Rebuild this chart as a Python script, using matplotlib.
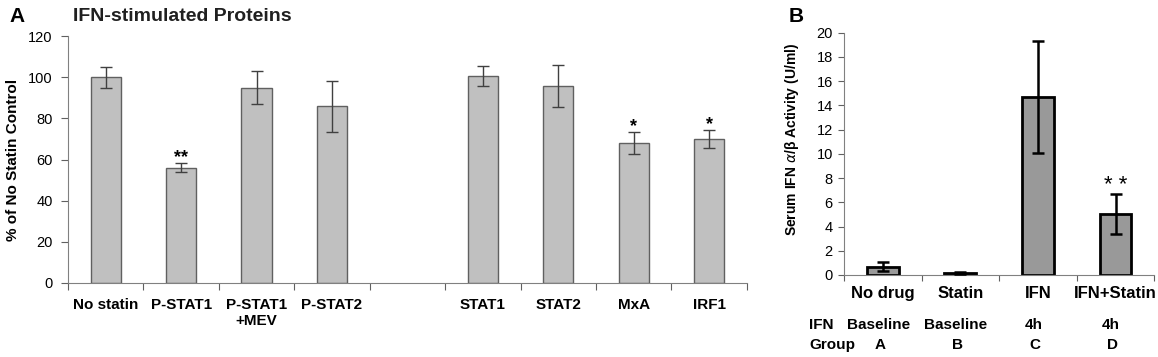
import matplotlib
matplotlib.use("Agg")
import numpy as np
import matplotlib.pyplot as plt

plt.rcParams["font.family"] = ["Liberation Sans", "DejaVu Sans"]

# ── panel A data ──
A_LABELS = ["No statin", "P-STAT1", "P-STAT1\n+MEV", "P-STAT2", "",
            "STAT1", "STAT2", "MxA", "IRF1"]
A_VALUES = [100, 56, 95, 86, np.nan, 100.5, 95.7, 68, 70]
A_ERRORS = [5, 2.3, 8.2, 12.4, np.nan, 5, 10.2, 5.2, 4.5]
A_STARS = ["", "**", "", "", "", "", "", "*", "*"]

# ── panel B data ──
B_LABELS = ["No drug", "Statin", "IFN", "IFN+Statin"]
B_VALUES = [0.7, 0.15, 14.7, 5.0]
B_ERRORS = [0.37, 0.1, 4.65, 1.65]
B_STARS = ["", "", "", "* *"]
B_IFN = ["Baseline", "Baseline", "4h", "4h"]
B_GROUP = ["A", "B", "C", "D"]

fig = plt.figure(figsize=(11.58, 3.57), dpi=100)

# --- panel A ---
axA = fig.add_axes([0.0587, 0.2073, 0.5863, 0.6917])
xa = np.arange(len(A_LABELS))
axA.bar(xa, A_VALUES, width=0.4, color="#c0c0c0", edgecolor="#606060",
        linewidth=1.0, zorder=2)
axA.errorbar(xa, A_VALUES, yerr=A_ERRORS, fmt="none", ecolor="#404040",
             elinewidth=1.0, capsize=4, capthick=1.0, zorder=3)
for i, s in enumerate(A_STARS):
    if s:
        axA.text(xa[i], A_VALUES[i] + A_ERRORS[i] - 1.5, s, ha="center",
                 va="bottom", fontsize=13, fontweight="bold")
axA.set_xlim(-0.5, len(A_LABELS) - 0.5)
axA.set_ylim(0, 120)
axA.set_yticks(np.arange(0, 121, 20))
axA.set_xticks(np.arange(-0.5, len(A_LABELS), 1.0))
axA.set_xticklabels([])
axA.set_xticks(xa, minor=True)
axA.set_xticklabels(A_LABELS, minor=True, fontweight="bold", fontsize=11,
                    va="top")
axA.tick_params(axis="x", which="minor", length=0, pad=11)
axA.tick_params(axis="x", which="major", length=5, color="#606060",
                direction="out")
axA.tick_params(axis="y", length=5, color="#606060", labelsize=10.5, pad=6)
for side in ["top", "right"]:
    axA.spines[side].set_visible(False)
for side in ["left", "bottom"]:
    axA.spines[side].set_color("#808080")
axA.set_ylabel("% of No Statin Control", fontweight="bold", fontsize=11,
               labelpad=6)
fig.text(0.063, 0.955, "IFN-stimulated Proteins", fontsize=14,
         fontweight="bold", color="#202020", va="center")
fig.text(0.008, 0.955, "A", fontsize=15, fontweight="bold", va="center")

# --- panel B ---
axB = fig.add_axes([0.7288, 0.2297, 0.268, 0.6787])
xb = np.arange(len(B_LABELS))
axB.bar(xb, B_VALUES, width=0.41, color="#999999", edgecolor="black",
        linewidth=2.0, zorder=2)
axB.errorbar(xb, B_VALUES, yerr=B_ERRORS, fmt="none", ecolor="black",
             elinewidth=1.8, capsize=4, capthick=1.8, zorder=3)
for i, s in enumerate(B_STARS):
    if s:
        axB.text(xb[i], B_VALUES[i] + B_ERRORS[i] - 0.15, s, ha="center",
                 va="bottom", fontsize=16)
axB.set_xlim(-0.5, len(B_LABELS) - 0.5)
axB.set_ylim(0, 20)
axB.set_yticks(np.arange(0, 21, 2))
axB.set_xticks(np.arange(-0.5, len(B_LABELS), 1.0))
axB.set_xticklabels([])
axB.set_xticks(xb, minor=True)
axB.set_xticklabels(B_LABELS, minor=True, fontweight="bold", fontsize=12)
axB.tick_params(axis="x", which="minor", length=0, pad=8)
axB.tick_params(axis="x", which="major", length=4, color="#606060",
                direction="out")
axB.tick_params(axis="y", length=4, color="#606060", labelsize=10.5, pad=4)
for side in ["top", "right"]:
    axB.spines[side].set_visible(False)
for side in ["left", "bottom"]:
    axB.spines[side].set_color("#808080")
axB.set_ylabel(r"Serum IFN $\mathit{\alpha}$/β Activity (U/ml)",
               fontweight="bold", fontsize=10)
axB.yaxis.set_label_coords(-0.14, 0.56)

trans = axB.get_xaxis_transform()
axB.text(-0.95, -0.205, "IFN", transform=trans, fontweight="bold",
         fontsize=11, ha="left", va="center")
axB.text(-0.95, -0.29, "Group", transform=trans, fontweight="bold",
         fontsize=11, ha="left", va="center")
for i in range(len(B_LABELS)):
    axB.text(xb[i] - 0.06, -0.205, B_IFN[i], transform=trans,
             fontweight="bold", fontsize=11, ha="center", va="center")
    axB.text(xb[i] - 0.04, -0.29, B_GROUP[i], transform=trans,
             fontweight="bold", fontsize=11, ha="center", va="center")
fig.text(0.681, 0.955, "B", fontsize=15, fontweight="bold", va="center")

fig.savefig("out.png", dpi=100)
